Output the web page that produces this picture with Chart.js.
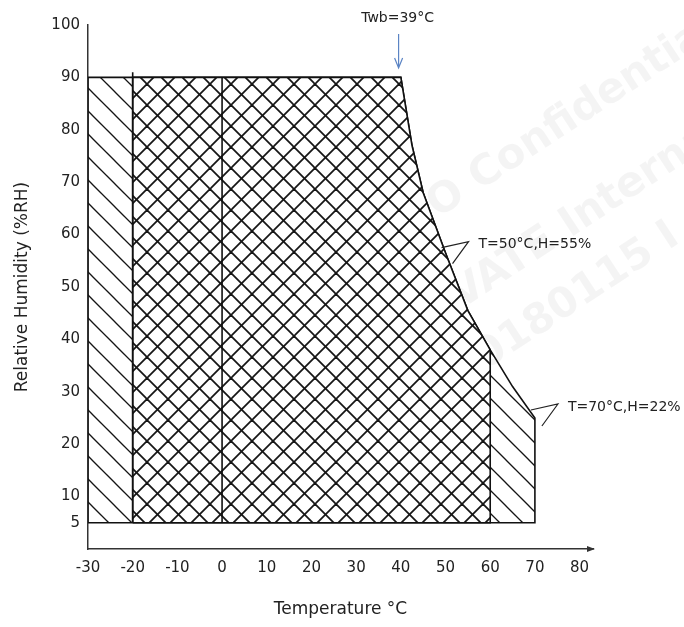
<!DOCTYPE html>
<html>
<head>
<meta charset="utf-8">
<script src="https://cdn.jsdelivr.net/npm/chart.js@4.4.1/dist/chart.umd.min.js"></script>
<style>
  html, body { margin: 0; padding: 0; background: #fff; }
  #wrap { width: 684px; height: 627px; position: relative; }
</style>
</head>
<body>
<div id="wrap"><canvas id="chart"></canvas></div>
<script>
const tempTicks = [-30, -20, -10, 0, 10, 20, 30, 40, 50, 60, 70, 80];
const rhTicks = [5, 10, 20, 30, 40, 50, 60, 70, 80, 90, 100];

// upper boundary (Twb = 39°C)
const curveT = [40, 42.5, 45, 50, 55, 60, 65, 70];
const curveRH = [90, 77, 68, 56.5, 45.5, 38, 31, 25];

const storageMinT = -30, storageMaxT = 70;
const operMinT = -20, operMaxT = 60;
const minRH = 5, maxRH = 90;

const notes = [
  { text: "T=50°C,H=55%", t: 50, rh: 56 },
  { text: "T=70°C,H=22%", t: 70, rh: 25 },
];

function pts(ts, hs) {
  return ts.map((t, i) => ({ x: t, y: hs[i] }));
}

const storageT = [storageMinT, storageMinT, ...curveT, storageMaxT, storageMinT];
const storageRH = [minRH, maxRH, ...curveRH, minRH, minRH];

const nOper = curveT.filter(t => t <= operMaxT).length;
const operT = [operMinT, operMinT, ...curveT.slice(0, nOper), operMaxT, operMinT];
const operRH = [minRH, maxRH, ...curveRH.slice(0, nOper), minRH, minRH];

function hatch(size, both, bg, lw) {
  const c = document.createElement("canvas");
  c.width = size;
  c.height = size;
  const g = c.getContext("2d");
  if (bg) {
    g.fillStyle = bg;
    g.fillRect(0, 0, size, size);
  }
  g.strokeStyle = "#151515";
  g.lineWidth = lw;
  const line = (a, b, cc, d) => { g.beginPath(); g.moveTo(a, b); g.lineTo(cc, d); g.stroke(); };
  line(-3, -3, size + 3, size + 3);
  line(size - 3, -3, size + 3, 3);
  line(-3, size - 3, 3, size + 3);
  if (both) {
    line(-3, size + 3, size + 3, -3);
    line(-3, 3, 3, -3);
    line(size - 3, size + 3, size + 3, size - 3);
  }
  return g.createPattern(c, "repeat");
}

const decor = {
  id: "decor",
  beforeDatasetsDraw(chart) {
    const ctx = chart.ctx;
    ctx.save();
    ctx.fillStyle = "rgba(0,0,0,0.045)";
    ctx.font = "bold 42px 'DejaVu Sans'";
    ctx.textAlign = "center";
    ctx.textBaseline = "middle";
    [["AUO Confidential", 545, 135], ["PRIVATE Internal", 555, 235], ["20180115 I", 565, 305]].forEach(w => {
      ctx.save();
      ctx.translate(w[1], w[2]);
      ctx.rotate(-0.58);
      ctx.fillText(w[0], 0, 0);
      ctx.restore();
    });
    ctx.restore();
  },
  afterDatasetsDraw(chart) {
    const ctx = chart.ctx;
    const xs = chart.scales.x, ys = chart.scales.y;
    ctx.save();
    ctx.fillStyle = "#222";
    ctx.strokeStyle = "#222";
    ctx.lineWidth = 1.2;
    ctx.font = "14px 'DejaVu Sans'";
    ctx.textBaseline = "middle";

    // Twb label and arrow
    const ax = xs.getPixelForValue(39.5);
    ctx.textAlign = "center";
    ctx.fillText("Twb=39°C", ax - 1, 18);
    ctx.strokeStyle = "#5b84c4";
    ctx.beginPath();
    ctx.moveTo(ax, 34);
    ctx.lineTo(ax, 68);
    ctx.moveTo(ax - 4, 58);
    ctx.lineTo(ax, 68);
    ctx.lineTo(ax + 4, 58);
    ctx.stroke();

    // leaders
    ctx.strokeStyle = "#222";
    ctx.textAlign = "left";
    notes.forEach(n => {
      const px = xs.getPixelForValue(n.t) - 4;
      const py = ys.getPixelForValue(n.rh) - 8;
      const tx = px + 27, ty = py - 6;
      ctx.beginPath();
      ctx.moveTo(px, py);
      ctx.lineTo(tx, ty);
      ctx.lineTo(tx - 16, ty + 22);
      ctx.stroke();
      ctx.fillText(n.text, tx + 10, ty + 3);
    });

    // arrow at the end of the x axis
    const ay = ys.getPixelForValue(0);
    const ex = chart.chartArea.right;
    ctx.fillStyle = "#333";
    ctx.beginPath();
    ctx.moveTo(ex + 2, ay);
    ctx.lineTo(ex - 6, ay - 3);
    ctx.lineTo(ex - 6, ay + 3);
    ctx.closePath();
    ctx.fill();
    ctx.restore();
  },
};

const lineStyle = {
  borderColor: "#111",
  borderWidth: 1.6,
  pointRadius: 0,
  tension: 0,
};

new Chart(document.getElementById("chart"), {
  type: "line",
  data: {
    datasets: [
      {
        ...lineStyle,
        data: pts([0, 0], [minRH, maxRH]),
        fill: false,
      },
      {
        ...lineStyle,
        data: pts([operMinT, operMinT], [minRH, maxRH + 1]),
        fill: false,
      },
      {
        ...lineStyle,
        data: pts(operT, operRH),
        fill: "shape",
        backgroundColor: hatch(21, true, "#fff", 1.8),
      },
      {
        ...lineStyle,
        data: pts(storageT, storageRH),
        fill: "shape",
        backgroundColor: hatch(23, false, null, 1.3),
      },
    ],
  },
  options: {
    responsive: true,
    maintainAspectRatio: false,
    animation: false,
    layout: { padding: { top: 25, right: 91, left: 0, bottom: 0 } },
    plugins: {
      legend: { display: false },
      title: { display: false },
      tooltip: { enabled: false },
    },
    scales: {
      x: {
        type: "linear",
        min: -30,
        max: 83,
        afterBuildTicks: s => { s.ticks = tempTicks.map(v => ({ value: v })); },
        afterFit: s => { s.height = 78; },
        grid: { display: false, drawTicks: false },
        border: { display: true, color: "#333", width: 1.5, dash: [10, 2] },
        ticks: { color: "#222", padding: 10, font: { family: "DejaVu Sans", size: 15 } },
        title: {
          display: true,
          text: "Temperature °C",
          color: "#222",
          font: { family: "DejaVu Sans", size: 17 },
          padding: { top: 7, bottom: 7 },
        },
      },
      y: {
        type: "linear",
        min: 0,
        max: 100,
        afterBuildTicks: s => { s.ticks = rhTicks.map(v => ({ value: v })); },
        afterFit: s => { s.width = 88; },
        grid: { display: false, drawTicks: false },
        border: { display: true, color: "#333", width: 1.5, dash: [10, 2] },
        ticks: { color: "#222", padding: 8, font: { family: "DejaVu Sans", size: 15 } },
        title: {
          display: true,
          text: "Relative Humidity (%RH)",
          color: "#222",
          font: { family: "DejaVu Sans", size: 17 },
          padding: { top: 12, bottom: 12 },
        },
      },
    },
  },
  plugins: [decor],
});
</script>
</body>
</html>
